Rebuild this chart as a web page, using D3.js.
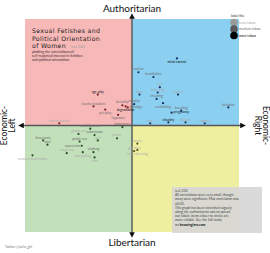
<!DOCTYPE html>
<html>
<head>
<meta charset="utf-8">
<script src="https://cdn.jsdelivr.net/npm/d3@7"></script>
<style>
  body { margin: 0; background: #fff; }
  svg { display: block; font-family: "Lato", "Open Sans", sans-serif; }
</style>
</head>
<body>
<div id="chart"></div>
<script>
const WIDTH = 270, HEIGHT = 253;
const QUAD_COLORS = ["#f7b8b8", "#8bd0f0", "#c2e1ba", "#eef0a0"];
const DOT_COLORS = ["#7a1f24", "#1a2d5a", "#244a26", "#4d4d18"];
const TABOO_COLORS = ["#a9a9a9", "#6f6f6f", "#111111"];

// fetish labels, economic (left -1 .. right 1), authoritarian (lib -1 .. auth 1), taboo 0..2
const fetishes = ["age play", "teacher/student", "pet play", "brutality", "degradation", "bondage",
    "hypnosis", "incest fantasy", "mind control", "sadism", "humiliation", "knife play", "cheating",
    "cuckolding", "breeding", "lactation", "pregnancy", "chastity", "diapers", "latex", "leather",
    "feet", "toys", "lingerie", "roleplay", "dominance", "group sex", "exhibitionism", "submission",
    "threesome", "anal", "public sex", "voyeurism", "oral", "praise", "hair pulling", "choking",
    "sensory deprivation", "rough sex", "cum", "furries", "cross-dressing", "gay men"];
const economic = [-0.32, -0.36, -0.25, -0.09, -0.06, -0.04, -0.13, -0.68, 0.42, 0.06, 0.20, 0.24, 0.23,
    0.29, 0.46, 0.90, 0.37, 0.34, 0.50, 0.07, 0.43, 0.26, 0.17, 0.68, 0.02, -0.09, -0.50, -0.39, -0.35,
    -0.83, -0.79, -0.49, -0.47, -0.32, -0.14, -0.46, -0.36, -0.93, -0.61, -0.35, 0.05, 0.05, 0.02];
const authoritarian = [0.29, 0.18, 0.15, 0.19, 0.18, 0.17, 0.10, 0.02, 0.63, 0.50, 0.455, 0.31, 0.25,
    0.21, 0.14, 0.17, 0.12, 0.03, 0.03, 0.29, 0.29, 0.36, 0.02, 0.02, 0.20, -0.015, -0.08, -0.03, -0.09,
    -0.14, -0.18, -0.15, -0.19, -0.14, -0.12, -0.25, -0.25, -0.28, -0.26, -0.30, -0.17, -0.23, -0.24];
const taboo = [2, 1, 1, 1, 2, 1, 1, 0, 2, 1, 1, 0, 1, 1, 1, 1, 2, 2, 0, 0, 0, 0, 0, 0, 1, 1, 0, 1, 1,
    1, 1, 1, 1, 0, 0, 0, 1, 0, 0, 0, 0, 0, 0];
// where the label sits relative to its dot (default: above)
const labelBelow = ["pet play", "degradation", "hypnosis", "mind control", "cuckolding",
    "sensory deprivation", "hair pulling", "cross-dressing", "cum"];
const labelLeft = ["voyeurism"];
const labelRight = ["bondage", "pregnancy"];

const titleLines = ["Sexual Fetishes and", "Political Orientation", "of Women"];
const subtitleLines = ["plotting the correlations of", "self-reported interest in fetishes", "and political orientation"];
const legendLabels = ["least taboo", "medium taboo", "most taboo"];
const noteLines = ["n=1,330", "All correlations were very small, though",
    "many were significant. Max correlation was", "\u00b10.03.",
    "This graph has been stretched vaguely", "along the authoritarian axis to spread",
    "out labels; items closer to circles are", "more reliable. See the full study"];

const svg = d3.select("#chart").append("svg")
    .attr("width", WIDTH)
    .attr("height", HEIGHT);

// scales
const x = d3.scaleLinear().domain([-1, 1]).range([25, 239]);
const y = d3.scaleLinear().domain([-1, 1]).range([232, 19]);

// quadrants
const quads = [[-1, 0, 1, 0], [0, 1, 1, 0], [-1, 0, 0, -1], [0, 1, 0, -1]];
svg.selectAll("rect.quad")
    .data(quads)
    .enter()
    .append("rect")
    .attr("class", "quad")
    .attr("x", d => x(d[0]))
    .attr("y", d => y(d[2]))
    .attr("width", d => x(d[1]) - x(d[0]))
    .attr("height", d => y(d[3]) - y(d[2]))
    .style("fill", (d, i) => QUAD_COLORS[i]);

// title, one text per line
titleLines.forEach((t, i) => {
    svg.append("text")
        .attr("x", 32)
        .attr("y", 33.2 + i * 7.4)
        .style("font-family", "'DejaVu Sans', sans-serif")
        .style("font-size", "6.2px")
        .style("letter-spacing", "0.35px")
        .style("fill", "#222")
        .text(t);
});
svg.append("text")
    .attr("x", 71)
    .attr("y", 47.5)
    .style("font-size", "3.3px")
    .style("fill", "#999")
    .text("(n=1,330)");
subtitleLines.forEach((t, i) => {
    svg.append("text")
        .attr("x", 32)
        .attr("y", 53 + i * 4)
        .style("font-size", "3.6px")
        .style("fill", "#333")
        .text(t);
});

// axes with arrows
svg.append("defs").append("marker")
    .attr("id", "arrow")
    .attr("viewBox", "0 0 10 10")
    .attr("refX", 5).attr("refY", 5)
    .attr("markerWidth", 4).attr("markerHeight", 4)
    .attr("orient", "auto-start-reverse")
    .append("path")
    .attr("d", "M0,0L10,5L0,10z")
    .style("fill", "#111");

svg.append("line")
    .attr("x1", x(0)).attr("x2", x(0))
    .attr("y1", y(1) - 3).attr("y2", y(-1) + 3)
    .attr("marker-start", "url(#arrow)")
    .attr("marker-end", "url(#arrow)")
    .style("stroke", "#555")
    .style("stroke-width", 1.4);
svg.append("line")
    .attr("y1", y(0)).attr("y2", y(0))
    .attr("x1", x(-1) - 4).attr("x2", x(1) + 4)
    .attr("marker-start", "url(#arrow)")
    .attr("marker-end", "url(#arrow)")
    .style("stroke", "#555")
    .style("stroke-width", 1.4);

svg.append("text")
    .attr("x", x(0)).attr("y", 12)
    .style("text-anchor", "middle")
    .style("font-size", "10px")
    .style("fill", "#111")
    .text("Authoritarian");
svg.append("text")
    .attr("x", x(0)).attr("y", 246)
    .style("text-anchor", "middle")
    .style("font-size", "10px")
    .style("fill", "#111")
    .text("Libertarian");

const leftLab = svg.append("text")
    .attr("transform", "translate(7," + y(0) + ") rotate(-90)")
    .style("text-anchor", "middle")
    .style("font-size", "8.5px")
    .style("fill", "#111");
leftLab.append("tspan").attr("x", 0).attr("dy", 0).text("Economic-");
leftLab.append("tspan").attr("x", 0).attr("dy", 8).text("Left");

const rightLab = svg.append("text")
    .attr("transform", "translate(263," + y(0) + ") rotate(90)")
    .style("text-anchor", "middle")
    .style("font-size", "8.5px")
    .style("fill", "#111");
rightLab.append("tspan").attr("x", 0).attr("dy", 0).text("Economic-");
rightLab.append("tspan").attr("x", 0).attr("dy", 8).text("Right");

// points
const points = fetishes.map((name, i) => ({
    name: name, ex: economic[i], au: authoritarian[i], taboo: taboo[i]
}));
function quadIndex(d) {
    return (d.au >= 0 ? 0 : 2) + (d.ex >= 0 ? 1 : 0);
}
function side(d) {
    if (labelBelow.includes(d.name)) return "below";
    if (labelLeft.includes(d.name)) return "left";
    if (labelRight.includes(d.name)) return "right";
    return "above";
}

const pt = svg.selectAll("g.pt")
    .data(points)
    .enter()
    .append("g")
    .attr("class", "pt")
    .attr("transform", d => "translate(" + x(d.ex) + "," + y(d.au) + ")");
pt.append("circle")
    .attr("r", 1.1)
    .style("fill", d => DOT_COLORS[quadIndex(d)]);
pt.append("text")
    .attr("x", d => ({left: -2, right: 2})[side(d)] || 0)
    .attr("y", d => ({below: 4.6, left: 1.2, right: 0.6})[side(d)] || -1.8)
    .style("text-anchor", d => ({left: "end", right: "start"})[side(d)] || "middle")
    .style("font-size", "3.4px")
    .style("fill", d => TABOO_COLORS[d.taboo])
    .text(d => d.name);

// legend
svg.append("text")
    .attr("x", 231).attr("y", 16.5)
    .style("font-size", "3.6px")
    .style("fill", "#333")
    .text("label the");
const leg = svg.selectAll("g.leg")
    .data(legendLabels)
    .enter()
    .append("g")
    .attr("class", "leg")
    .attr("transform", (d, i) => "translate(234," + (22.5 + i * 6.5) + ")");
leg.append("circle")
    .attr("r", 3.8)
    .style("fill", (d, i) => ["#9a9a9a", "#5a5a5a", "#000"][i]);
leg.append("text")
    .attr("x", 5).attr("y", 1.3)
    .style("font-size", "3.4px")
    .style("fill", (d, i) => TABOO_COLORS[i])
    .text(d => d);

// note box
svg.append("rect")
    .attr("x", 172).attr("y", 187)
    .attr("width", 90).attr("height", 46)
    .style("fill", "#d6d6d6")
    .style("opacity", 0.9);
noteLines.forEach((t, i) => {
    svg.append("text")
        .attr("x", 175)
        .attr("y", 192 + i * 4.2)
        .style("font-size", "3.4px")
        .style("fill", "#444")
        .text(t);
});
svg.append("text")
    .attr("x", 175)
    .attr("y", 192 + noteLines.length * 4.2)
    .style("font-size", "3.4px")
    .style("fill", "#444")
    .text("on ")
    .append("tspan")
    .style("font-weight", "bold")
    .style("fill", "#111")
    .text("knowingless.com");

svg.append("text")
    .attr("x", 5).attr("y", 248)
    .style("font-size", "3.4px")
    .style("fill", "#777")
    .text("Twitter @aella_girl");
</script>
</body>
</html>
